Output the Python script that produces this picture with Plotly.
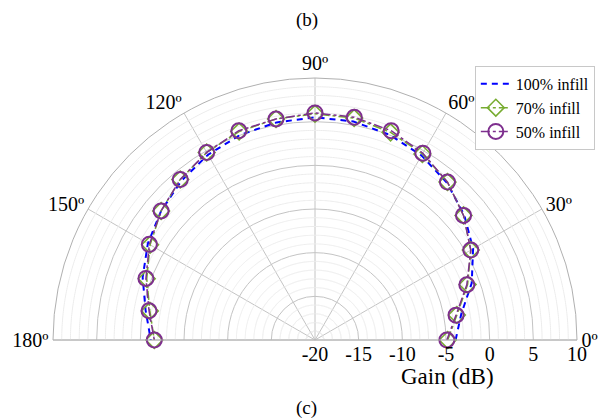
import plotly.graph_objects as go

# ---- data ----
angles = [0, 10, 20, 30, 40, 50, 60, 70, 80, 90, 100, 110, 120, 130, 140, 150, 160, 170, 180]
gain_100 = [-3.9, -3.0, -0.9, 0.9, 2.3, 3.5, 4.4, 5.0, 5.4, 5.5, 5.3, 5.0, 4.5, 3.8, 3.0, 2.1, 1.0, -0.3, -1.2]
gain_70 = [-4.8, -3.5, -1.4, 0.6, 2.2, 3.6, 4.6, 5.3, 5.8, 5.9, 5.7, 5.4, 4.8, 4.0, 3.0, 1.8, 0.5, -0.8, -1.6]
gain_50 = [-4.9, -3.6, -1.5, 0.6, 2.2, 3.6, 4.7, 5.5, 5.9, 6.0, 5.7, 5.5, 4.8, 4.0, 3.0, 1.9, 0.6, -0.7, -1.6]

theta_ticks = [0, 30, 60, 90, 120, 150, 180]
theta_labels = ["0º", "30º", "60º", "90º", "120º", "150º", "180º"]
r_ticks = [-20, -15, -10, -5, 0, 5, 10]
r_labels = ["-20", "-15", "-10", "-5", "0", "5", "10"]
r_range = [-20, 10]

FONT = "Liberation Serif"

fig = go.Figure()

# minor radial grid circles (every 1 dB)
arc = [t * 0.5 for t in range(0, 361)]
for v in range(r_range[0] + 1, r_range[1]):
    if v % 5 == 0:
        continue
    fig.add_trace(go.Scatterpolar(r=[v] * len(arc), theta=arc, mode="lines",
                                  line=dict(color="#ececec", width=1),
                                  hoverinfo="skip", showlegend=False))

fig.add_trace(go.Scatterpolar(r=gain_100, theta=angles, mode="lines", name="100% infill",
                              line=dict(color="#0000ff", width=2, dash="6px,5px")))
fig.add_trace(go.Scatterpolar(r=gain_70, theta=angles, mode="lines+markers", name="70% infill",
                              line=dict(color="#77ac30", width=1.5, dash="dashdot"),
                              marker=dict(symbol="diamond-open", size=13,
                                          line=dict(color="#77ac30", width=1.5))))
fig.add_trace(go.Scatterpolar(r=gain_50, theta=angles, mode="lines+markers", name="50% infill",
                              line=dict(color="#7e2f8e", width=1.5, dash="dashdot"),
                              marker=dict(symbol="circle-open", size=15,
                                          line=dict(color="#7e2f8e", width=2))))

fig.update_layout(
    width=611, height=418,
    margin=dict(l=45, r=42, t=70, b=86, autoexpand=False),
    paper_bgcolor="white",
    font=dict(family=FONT, size=20, color="black"),
    polar=dict(
        sector=[0, 180],
        bgcolor="white",
        domain=dict(x=[0, 1], y=[0, 1]),
        angularaxis=dict(
            direction="counterclockwise", rotation=0,
            tickmode="array", tickvals=theta_ticks, ticktext=theta_labels,
            ticks="", ticklen=0, showline=True, linecolor="#b0b0b0", linewidth=1,
            gridcolor="#c4c4c4", gridwidth=1,
            tickfont=dict(family=FONT, size=20, color="black"),
        ),
        radialaxis=dict(
            range=r_range, angle=0, side="clockwise",
            tickmode="array", tickvals=r_ticks, ticktext=r_labels,
            ticks="", showline=False,
            gridcolor="#c4c4c4", gridwidth=1,
            tickfont=dict(family=FONT, size=20, color="black"),
            tickangle=0,
        ),
    ),
    legend=dict(
        x=0.805, y=1.046, xanchor="left", yanchor="top",
        bgcolor="white", bordercolor="#c8c8c8", borderwidth=1,
        font=dict(family=FONT, size=16, color="black"),
        tracegroupgap=0, itemwidth=30,
    ),
    annotations=[
        dict(text="(b)", x=0.485, y=1.221, xref="paper", yref="paper",
             xanchor="center", yanchor="middle",
             showarrow=False, font=dict(family=FONT, size=19)),
        dict(text="Gain (dB)", x=0.752, y=-0.141, xref="paper", yref="paper",
             xanchor="center", yanchor="middle",
             showarrow=False, font=dict(family=FONT, size=23)),
        dict(text="(c)", x=0.483, y=-0.26, xref="paper", yref="paper",
             xanchor="center", yanchor="middle",
             showarrow=False, font=dict(family=FONT, size=19)),
    ],
)

fig.write_html("out.html")
